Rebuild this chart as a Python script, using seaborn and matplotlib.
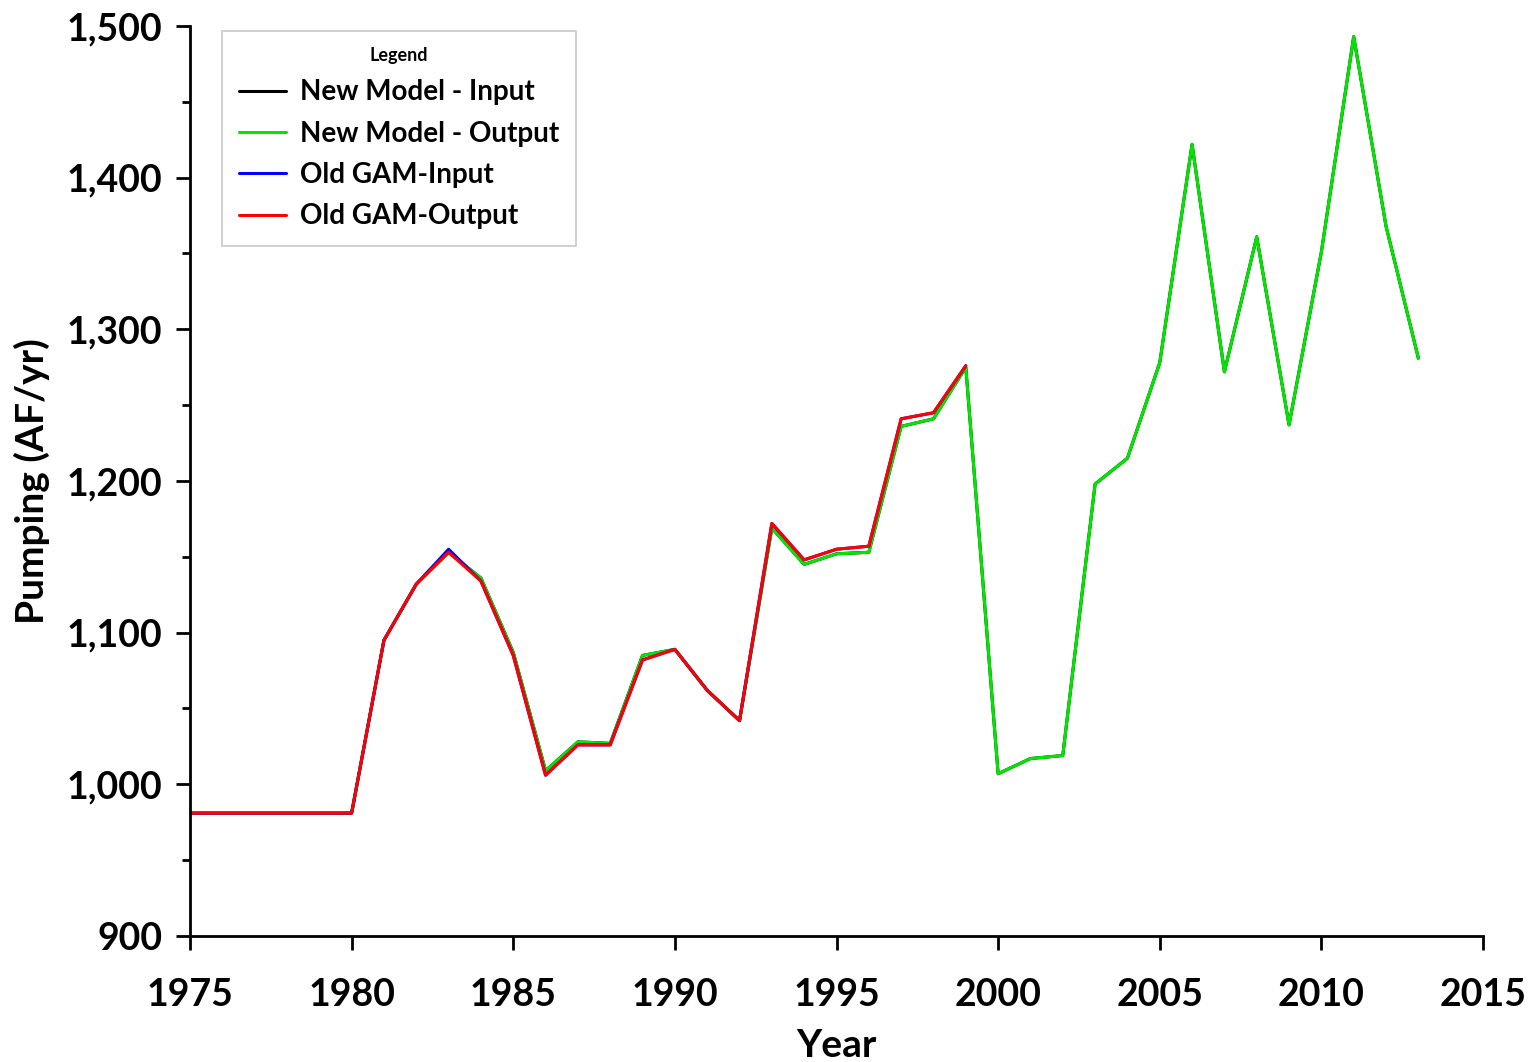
import matplotlib
matplotlib.use("Agg")
import matplotlib.pyplot as plt
import matplotlib.ticker as mticker
import numpy as np
import pandas as pd
import seaborn as sns

# years
NEW_YEARS = list(range(1975, 2014))
OLD_YEARS = list(range(1975, 2000))

# New model (1975-2013)
NEW_INPUT = [981, 981, 981, 981, 981, 981, 1095, 1132, 1153, 1136,
             1087, 1009, 1028, 1027, 1085, 1089, 1062, 1042, 1169, 1145,
             1152, 1153, 1236, 1241, 1275, 1007, 1017, 1019, 1198, 1215,
             1278, 1422, 1272, 1361, 1237, 1351, 1493, 1368, 1281]
NEW_OUTPUT = [981, 981, 981, 981, 981, 981, 1095, 1132, 1153, 1136,
              1087, 1009, 1028, 1027, 1085, 1089, 1062, 1042, 1169, 1145,
              1152, 1153, 1236, 1241, 1275, 1007, 1017, 1019, 1198, 1215,
              1278, 1422, 1272, 1361, 1237, 1351, 1493, 1368, 1281]

# Old GAM (1975-1999)
OLD_INPUT = [981, 981, 981, 981, 981, 981, 1095, 1132, 1155, 1134,
             1085, 1006, 1026, 1026, 1082, 1089, 1062, 1042, 1172, 1148,
             1155, 1157, 1241, 1245, 1276]
OLD_OUTPUT = [981, 981, 981, 981, 981, 981, 1095, 1132, 1153, 1134,
              1085, 1006, 1026, 1026, 1082, 1089, 1062, 1042, 1172, 1148,
              1155, 1157, 1241, 1245, 1276]

SERIES = [
    ("New Model - Input", NEW_YEARS, NEW_INPUT, "#000000"),
    ("New Model - Output", NEW_YEARS, NEW_OUTPUT, "#00e600"),
    ("Old GAM-Input", OLD_YEARS, OLD_INPUT, "#0000ff"),
    ("Old GAM-Output", OLD_YEARS, OLD_OUTPUT, "#ff0000"),
]

sns.set_theme(style="ticks")
plt.rcParams["font.family"] = ["Lato", "DejaVu Sans"]
plt.rcParams["text.color"] = "black"
plt.rcParams["axes.labelcolor"] = "black"
plt.rcParams["xtick.color"] = "black"
plt.rcParams["ytick.color"] = "black"

df = pd.concat(
    [pd.DataFrame({"Year": yrs, "Pumping": vals, "Series": name})
     for name, yrs, vals, _ in SERIES],
    ignore_index=True,
)
palette = {name: c for name, _, _, c in SERIES}

fig = plt.figure(figsize=(15.31, 10.62), dpi=100)
ax = fig.add_axes([190 / 1531, 126 / 1062, 1293 / 1531, 910 / 1062])

sns.lineplot(data=df, x="Year", y="Pumping", hue="Series", palette=palette,
             hue_order=[s[0] for s in SERIES], linewidth=2.2, ax=ax,
             legend=False)

ax.set_xlim(1975, 2015)
ax.set_ylim(900, 1500)
ax.xaxis.set_major_locator(mticker.MultipleLocator(5))
ax.yaxis.set_major_locator(mticker.MultipleLocator(100))
ax.yaxis.set_minor_locator(mticker.MultipleLocator(50))
ax.yaxis.set_major_formatter(mticker.FuncFormatter(lambda v, p: f"{int(v):,}"))

for side in ["top", "right"]:
    ax.spines[side].set_visible(False)
for side in ["left", "bottom"]:
    ax.spines[side].set_linewidth(2)
    ax.spines[side].set_color("black")

ax.tick_params(axis="both", which="major", direction="out", length=10,
               width=2, colors="black", labelcolor="black", labelsize=27)
ax.tick_params(axis="x", which="major", pad=20)
ax.tick_params(axis="y", which="major", pad=10)
ax.tick_params(axis="y", which="minor", direction="out", length=6, width=2,
               colors="black")
for lbl in ax.get_xticklabels() + ax.get_yticklabels():
    lbl.set_fontweight("bold")

ax.set_xlabel("Year", fontsize=28, fontweight="bold", labelpad=12,
              color="black")
ax.set_ylabel("Pumping (AF/yr)", fontsize=28, fontweight="bold", labelpad=12,
              color="black")

handles = [plt.Line2D([], [], color=c, lw=2.2) for _, _, _, c in SERIES]
leg = ax.legend(handles, [s[0] for s in SERIES], title="Legend",
                loc="upper left", bbox_to_anchor=(0.025, 0.995),
                borderaxespad=0, frameon=True, fancybox=False, framealpha=1,
                prop={"size": 20, "weight": "bold"},
                title_fontproperties={"size": 13, "weight": "bold"},
                handlelength=1.7, handletextpad=0.5, labelspacing=0.55,
                borderpad=0.6)
leg.get_frame().set_edgecolor("#c8c8c8")
leg.get_frame().set_linewidth(1.2)
for t in leg.get_texts():
    t.set_color("black")

fig.savefig("out.png", dpi=100)
